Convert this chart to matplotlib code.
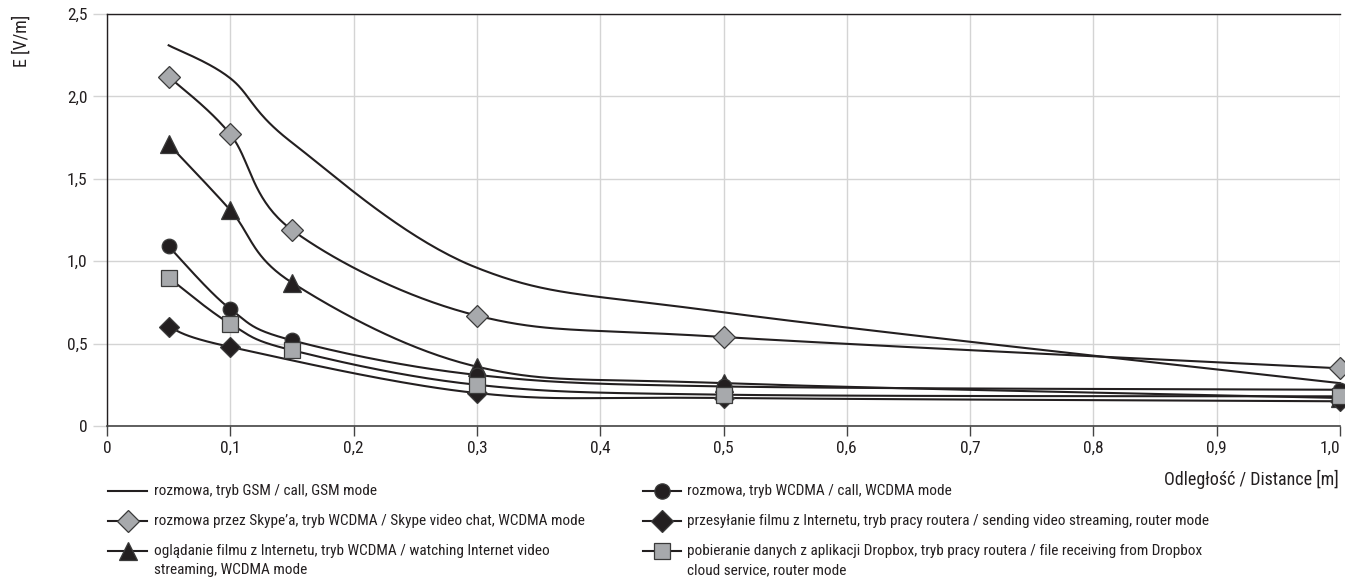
import numpy as np
import matplotlib
matplotlib.use("Agg")
import matplotlib.pyplot as plt
from matplotlib.lines import Line2D

plt.rcParams['font.family'] = ['Roboto Condensed', 'DejaVu Sans']

# ---- data ----
distance = [0.05, 0.1, 0.15, 0.3, 0.5, 1.0]
gsm_call = [2.31, 2.11, 1.72, 0.96, 0.69, 0.26]
skype_wcdma = [2.12, 1.77, 1.19, 0.67, 0.54, 0.35]
video_wcdma = [1.71, 1.31, 0.87, 0.36, 0.26, 0.17]
call_wcdma = [1.09, 0.71, 0.52, 0.31, 0.24, 0.22]
dropbox_router = [0.90, 0.62, 0.46, 0.25, 0.19, 0.18]
sending_router = [0.60, 0.48, np.nan, 0.20, 0.17, 0.15]

labels = [
    "rozmowa, tryb GSM / call, GSM mode",
    "rozmowa przez Skype’a, tryb WCDMA / Skype video chat, WCDMA mode",
    "oglądanie filmu z Internetu, tryb WCDMA / watching Internet video\nstreaming, WCDMA mode",
    "rozmowa, tryb WCDMA / call, WCDMA mode",
    "przesyłanie filmu z Internetu, tryb pracy routera / sending video streaming, router mode",
    "pobieranie danych z aplikacji Dropbox, tryb pracy routera / file receiving from Dropbox\ncloud service, router mode",
]
xticks = [0, 0.1, 0.2, 0.3, 0.4, 0.5, 0.6, 0.7, 0.8, 0.9, 1.0]
xticklabels = ["0", "0,1", "0,2", "0,3", "0,4", "0,5", "0,6", "0,7", "0,8", "0,9", "1,0"]
yticks = [0, 0.5, 1.0, 1.5, 2.0, 2.5]
yticklabels = ["0", "0,5", "1,0", "1,5", "2,0", "2,5"]

DARK = '#231f20'
GREY = '#a7a9ac'
GRID = '#d4d4d4'

W, H = 1345, 577
fig = plt.figure(figsize=(W / 100, H / 100), dpi=100)
ax = fig.add_axes([107 / W, 1 - 426 / H, (1340 - 107) / W, (426 - 14) / H])
ax.set_xlim(0, 1.0)
ax.set_ylim(0, 2.5)


def smooth(xs, ys, sx=1233.0, sy=412 / 2.5, n=40):
    xs = np.asarray(xs, float)
    ys = np.asarray(ys, float)
    m = ~np.isnan(ys)
    P = np.column_stack([xs[m] * sx, ys[m] * sy])
    out = []
    for i in range(len(P) - 1):
        p0 = P[i - 1] if i > 0 else P[i]
        p1 = P[i]
        p2 = P[i + 1]
        p3 = P[i + 2] if i + 2 < len(P) else P[i + 1]
        c1 = p1 + (p2 - p0) / 6.0
        c2 = p2 - (p3 - p1) / 6.0
        t = np.linspace(0, 1, n)[:, None]
        seg = ((1 - t) ** 3) * p1 + 3 * ((1 - t) ** 2) * t * c1 + 3 * (1 - t) * t ** 2 * c2 + t ** 3 * p2
        out.append(seg if i == 0 else seg[1:])
    S = np.vstack(out)
    return S[:, 0] / sx, S[:, 1] / sy


series = [
    (gsm_call, None, None, 0),
    (skype_wcdma, 'D', GREY, 11.0),
    (video_wcdma, '^', DARK, 12.5),
    (call_wcdma, 'o', DARK, 10.5),
    (sending_router, 'D', DARK, 10.5),
    (dropbox_router, 's', GREY, 11.0),
]

for vals, mk, fc, ms in series:
    sx_, sy_ = smooth(distance, vals)
    ax.plot(sx_, sy_, color=DARK, lw=1.5, zorder=3, clip_on=False)
for vals, mk, fc, ms in series:
    if mk is None:
        continue
    ax.plot(distance, vals, ls='none', marker=mk, ms=ms, mfc=fc, mec='#3a3a3a',
            mew=0.9, zorder=4, clip_on=False)

ax.set_xticks(xticks)
ax.set_xticklabels(xticklabels)
ax.set_yticks(yticks)
ax.set_yticklabels(yticklabels)
ax.grid(True, color=GRID, lw=1.0, zorder=0)
ax.set_axisbelow(True)
ax.spines['right'].set_visible(False)
ax.spines['top'].set_color(DARK)
ax.spines['top'].set_linewidth(1.0)
ax.spines['left'].set_color(DARK)
ax.spines['left'].set_linewidth(1.0)
ax.spines['bottom'].set_color('#444444')
ax.spines['bottom'].set_linewidth(1.2)
ax.tick_params(axis='x', direction='out', length=7, width=1.0, color='#444444',
               labelsize=12.5, pad=4, labelcolor=DARK)
ax.tick_params(axis='y', direction='out', length=10, width=1.0, color=GRID,
               labelsize=12.5, pad=4, labelcolor=DARK)
ax.yaxis.get_major_ticks()[-1].tick1line.set_color(DARK)
ax.get_xticklabels()[-1].set_horizontalalignment('right')

fig.text(22 / W, 1 - 41 / H, "E [V/m]", rotation=90, ha='center', va='center',
         fontsize=13, color=DARK)
fig.text(1339 / W, 1 - 479 / H, "Odległość / Distance [m]", ha='right', va='center',
         fontsize=13, color=DARK)

# legend (manual)
leg_items = [
    (0, 491, None, None, 0),
    (0, 521, 'D', GREY, 11.5),
    (0, 551, '^', DARK, 13.0),
    (1, 491, 'o', DARK, 11.0),
    (1, 521, 'D', DARK, 11.5),
    (1, 551, 's', GREY, 11.5),
]
col_x = [(108, 147, 154), (643, 681, 687)]
for (col, y, mk, fc, ms), lab in zip(leg_items, labels):
    x0, x1, xt = col_x[col]
    yf = 1 - y / H
    fig.add_artist(Line2D([x0 / W, x1 / W], [yf, yf], transform=fig.transFigure,
                          color=DARK, lw=1.5))
    if mk is not None:
        fig.add_artist(Line2D([(x0 + x1) / 2 / W], [yf], transform=fig.transFigure,
                              ls='none', marker=mk, ms=ms, mfc=fc, mec='#3a3a3a', mew=0.9))
    for k, line in enumerate(lab.split('\n')):
        fig.text(xt / W, 1 - (y + 19 * k) / H, line, ha='left', va='center',
                 fontsize=11, color=DARK)

fig.savefig("out.png", dpi=100)
